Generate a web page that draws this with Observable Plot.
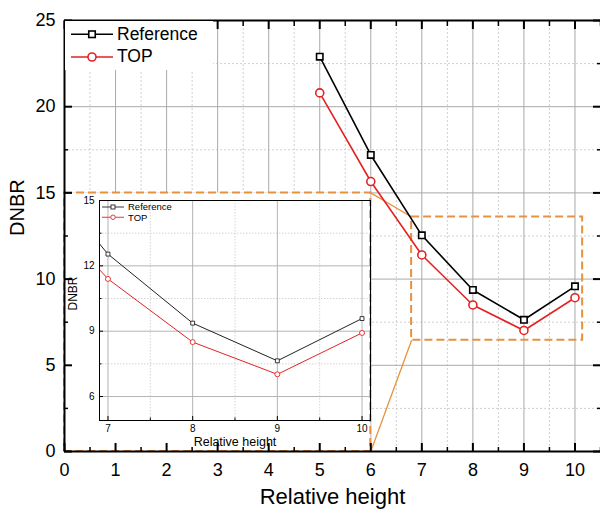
<!DOCTYPE html>
<html><head><meta charset="utf-8">
<script src="https://cdn.jsdelivr.net/npm/d3@7"></script>
<script src="https://cdn.jsdelivr.net/npm/@observablehq/plot@0.6"></script>
<style>
body{margin:0;background:#fff;font-family:"Liberation Sans",Arial,sans-serif}
#wrap{position:relative;width:600px;height:516px;overflow:hidden;background:#fff}
#wrap > svg{position:absolute}
.legend{position:absolute;background:#fff;font-family:"Liberation Sans",Arial,sans-serif;color:#000}
.legend .row{position:absolute;display:flex;align-items:center;white-space:nowrap}
</style></head><body><div id="wrap"></div>
<script>
// ---- data ----
const heights = [5, 6, 7, 8, 9, 10];
const referenceValues = [22.9, 17.2, 12.54, 9.37, 7.64, 9.58];
const topValues = [20.8, 15.66, 11.4, 8.5, 7.02, 8.92];
const seriesNames = ["Reference", "TOP"];

// tick values
const xMajor = [0, 1, 2, 3, 4, 5, 6, 7, 8, 9, 10];
const xMinor = [0.5, 1.5, 2.5, 3.5, 4.5, 5.5, 6.5, 7.5, 8.5, 9.5, 10.5];
const yMajor = [0, 5, 10, 15, 20, 25];
const yMinor = [2.5, 7.5, 12.5, 17.5, 22.5];
const insetXMajor = [7, 8, 9, 10];
const insetXMinor = [7.5, 8.5, 9.5];
const insetYMajor = [6, 9, 12, 15];
const insetYMinor = [7.5, 10.5, 13.5];

// annotation regions (data coordinates of the main chart)
const insetRegion = [{x1: 0, x2: 6, y1: 0, y2: 15}];
const zoomRegion = [{x1: 6.8, x2: 10.15, y1: 6.45, y2: 13.6}];
const connectors = [
  {x1: 6, y1: 15, x2: 6.8, y2: 13.6},
  {x1: 6, y1: 0, x2: 6.8, y2: 6.45}
];

// ---- build table ----
const rows = heights.flatMap((h, i) => [
  {h, v: referenceValues[i], s: seriesNames[0]},
  {h, v: topValues[i], s: seriesNames[1]}
]);
const refRows = rows.filter(d => d.s === "Reference");
const topRows = rows.filter(d => d.s === "TOP");

const RED = "#e32222";
const ORANGE = "#e8923f";
const FONT = "Liberation Sans, Arial, sans-serif";
const blank = () => "";

const main = Plot.plot({
  width: 600, height: 516,
  marginLeft: 64, marginRight: 0, marginTop: 20, marginBottom: 65,
  style: {fontFamily: FONT, background: "transparent", overflow: "visible", color: "#000"},
  x: {domain: [0, 10.5]},
  y: {domain: [0, 25]},
  color: {domain: seriesNames, range: ["#000", RED]},
  marks: [
    Plot.ruleX(xMinor, {stroke: "#cfcfcf", strokeDasharray: "2,2"}),
    Plot.ruleY(yMinor, {stroke: "#cfcfcf", strokeDasharray: "2,2"}),
    Plot.ruleX(xMajor.slice(1), {stroke: "#a9a9a9"}),
    Plot.ruleY(yMajor.slice(1, -1), {stroke: "#a9a9a9"}),
    Plot.rect(insetRegion, {x1: "x1", x2: "x2", y1: "y1", y2: "y2", fill: "white", stroke: ORANGE, strokeWidth: 2, strokeDasharray: "8,4"}),
    Plot.rect(zoomRegion, {x1: "x1", x2: "x2", y1: "y1", y2: "y2", fill: "none", stroke: ORANGE, strokeWidth: 2, strokeDasharray: "8,4"}),
    Plot.link(connectors, {x1: "x1", y1: "y1", x2: "x2", y2: "y2", stroke: ORANGE, strokeWidth: 1.3}),
    Plot.line(rows, {x: "h", y: "v", z: "s", stroke: "s", strokeWidth: 1.6}),
    Plot.dot(refRows, {x: "h", y: "v", symbol: "square", r: 3.6, fill: "white", stroke: "#000", strokeWidth: 1.6}),
    Plot.dot(topRows, {x: "h", y: "v", symbol: "circle", r: 4, fill: "white", stroke: RED, strokeWidth: 1.6}),
    // frame (left, bottom, top)
    Plot.ruleX([0], {stroke: "#000", strokeWidth: 2}),
    Plot.ruleY([0, 25], {stroke: "#000", strokeWidth: 2}),
    // tick labels
    Plot.axisX(xMajor, {anchor: "bottom", tickSize: 0, tickPadding: 12, fontSize: 18, label: null}),
    Plot.axisY(yMajor, {anchor: "left", tickSize: 0, tickPadding: 9, fontSize: 18, label: null}),
    // inward ticks
    Plot.axisX(xMajor, {anchor: "bottom", tickSize: 8, dy: -8, tickFormat: blank, label: null, strokeWidth: 2}),
    Plot.axisX(xMinor, {anchor: "bottom", tickSize: 4, dy: -4, tickFormat: blank, label: null, strokeWidth: 1.5}),
    Plot.axisX(xMajor, {anchor: "top", tickSize: 8, dy: 8, tickFormat: blank, label: null, strokeWidth: 2}),
    Plot.axisX(xMinor, {anchor: "top", tickSize: 5, dy: 5, tickFormat: blank, label: null, strokeWidth: 1.5}),
    Plot.axisY(yMajor, {anchor: "left", tickSize: 8, dx: 8, tickFormat: blank, label: null, strokeWidth: 2}),
    Plot.axisY(yMinor, {anchor: "left", tickSize: 4, dx: 4, tickFormat: blank, label: null, strokeWidth: 1.5}),
    Plot.axisY(yMajor, {anchor: "right", tickSize: 8, dx: -8, tickFormat: blank, label: null, strokeWidth: 2}),
    Plot.axisY(yMinor, {anchor: "right", tickSize: 4, dx: -4, tickFormat: blank, label: null, strokeWidth: 1.5}),
    // axis titles
    Plot.text(["Relative height"], {frameAnchor: "bottom", dy: 52, fontSize: 22, fill: "#000"}),
    Plot.text(["DNBR"], {frameAnchor: "left", dx: -47, rotate: -90, fontSize: 20, fill: "#000"})
  ]
});
main.style.left = "0px"; main.style.top = "0px";

const inset = Plot.plot({
  width: 308, height: 259,
  marginLeft: 35, marginRight: 2, marginTop: 8, marginBottom: 31,
  style: {fontFamily: FONT, background: "transparent", overflow: "visible", color: "#000"},
  x: {domain: [6.9, 10.1]},
  y: {domain: [4.9, 15]},
  color: {domain: seriesNames, range: ["#222", RED]},
  marks: [
    Plot.ruleX(insetXMinor, {stroke: "#d4d4d4", strokeDasharray: "1.5,1.5"}),
    Plot.ruleY(insetYMinor, {stroke: "#d4d4d4", strokeDasharray: "1.5,1.5"}),
    Plot.ruleX(insetXMajor, {stroke: "#b4b4b4"}),
    Plot.ruleY(insetYMajor, {stroke: "#b4b4b4"}),
    Plot.line(rows, {x: "h", y: "v", z: "s", stroke: "s", strokeWidth: 1, clip: true}),
    Plot.dot(refRows, {x: "h", y: "v", symbol: "square", r: 2.2, fill: "white", stroke: "#222", strokeWidth: 0.9, clip: true}),
    Plot.dot(topRows, {x: "h", y: "v", symbol: "circle", r: 2.5, fill: "white", stroke: RED, strokeWidth: 0.9, clip: true}),
    Plot.frame({stroke: "#000", strokeWidth: 1}),
    Plot.axisX(insetXMajor, {anchor: "bottom", tickSize: 0, tickPadding: 4, fontSize: 10, label: null}),
    Plot.axisY(insetYMajor, {anchor: "left", tickSize: 0, tickPadding: 5, fontSize: 10, label: null}),
    Plot.axisX(insetXMajor, {anchor: "bottom", tickSize: 4, dy: -4, tickFormat: blank, label: null}),
    Plot.axisX(insetXMinor, {anchor: "bottom", tickSize: 2.5, dy: -2.5, tickFormat: blank, label: null}),
    Plot.axisY(insetYMajor, {anchor: "left", tickSize: 4, dx: 4, tickFormat: blank, label: null}),
    Plot.axisY(insetYMinor, {anchor: "left", tickSize: 2.5, dx: 2.5, tickFormat: blank, label: null}),
    Plot.text(["Relative height"], {frameAnchor: "bottom", dy: 25, fontSize: 12.5, fill: "#000"}),
    Plot.text(["DNBR"], {frameAnchor: "left", dx: -26, rotate: -90, fontSize: 12, fill: "#000"})
  ]
});
inset.style.left = "64px"; inset.style.top = "192px";

const wrap = document.getElementById("wrap");
wrap.appendChild(main);
wrap.appendChild(inset);

function legendRow(name, color, symbol, lineW, symSize, fontSize, sw) {
  const row = document.createElement("div");
  row.className = "row";
  const w = lineW, h = symSize + 4;
  const c = w / 2, m = h / 2;
  const shape = symbol === "square"
    ? `<rect x="${c - symSize / 2}" y="${m - symSize / 2}" width="${symSize}" height="${symSize}" fill="white" stroke="${color}" stroke-width="${sw}"/>`
    : `<circle cx="${c}" cy="${m}" r="${symSize / 2}" fill="white" stroke="${color}" stroke-width="${sw}"/>`;
  row.innerHTML = `<svg width="${w}" height="${h}" style="display:block"><line x1="0" x2="${w}" y1="${m}" y2="${m}" stroke="${color}" stroke-width="${sw}"/>${shape}</svg><span style="font-size:${fontSize}px;margin-left:4px">${name}</span>`;
  return row;
}

// main legend
const lg = document.createElement("div");
lg.className = "legend";
Object.assign(lg.style, {left: "65px", top: "21px", width: "148px", height: "49px"});
const r1 = legendRow("Reference", "#000", "square", 42, 6.5, 17.5, 1.6);
const r2 = legendRow("TOP", RED, "circle", 42, 8, 17.5, 1.6);
Object.assign(r1.style, {left: "6px", top: "3px"});
Object.assign(r2.style, {left: "6px", top: "25px"});
lg.appendChild(r1); lg.appendChild(r2);
wrap.appendChild(lg);

// inset legend
const lg2 = document.createElement("div");
lg2.className = "legend";
Object.assign(lg2.style, {left: "101px", top: "201px", width: "70px", height: "24px", background: "transparent"});
const s1 = legendRow("Reference", "#222", "square", 22, 4, 9.5, 0.9);
const s2 = legendRow("TOP", RED, "circle", 22, 4.5, 9.5, 0.9);
Object.assign(s1.style, {left: "1px", top: "0px"});
Object.assign(s2.style, {left: "1px", top: "11px"});
lg2.appendChild(s1); lg2.appendChild(s2);
wrap.appendChild(lg2);
</script></body></html>
